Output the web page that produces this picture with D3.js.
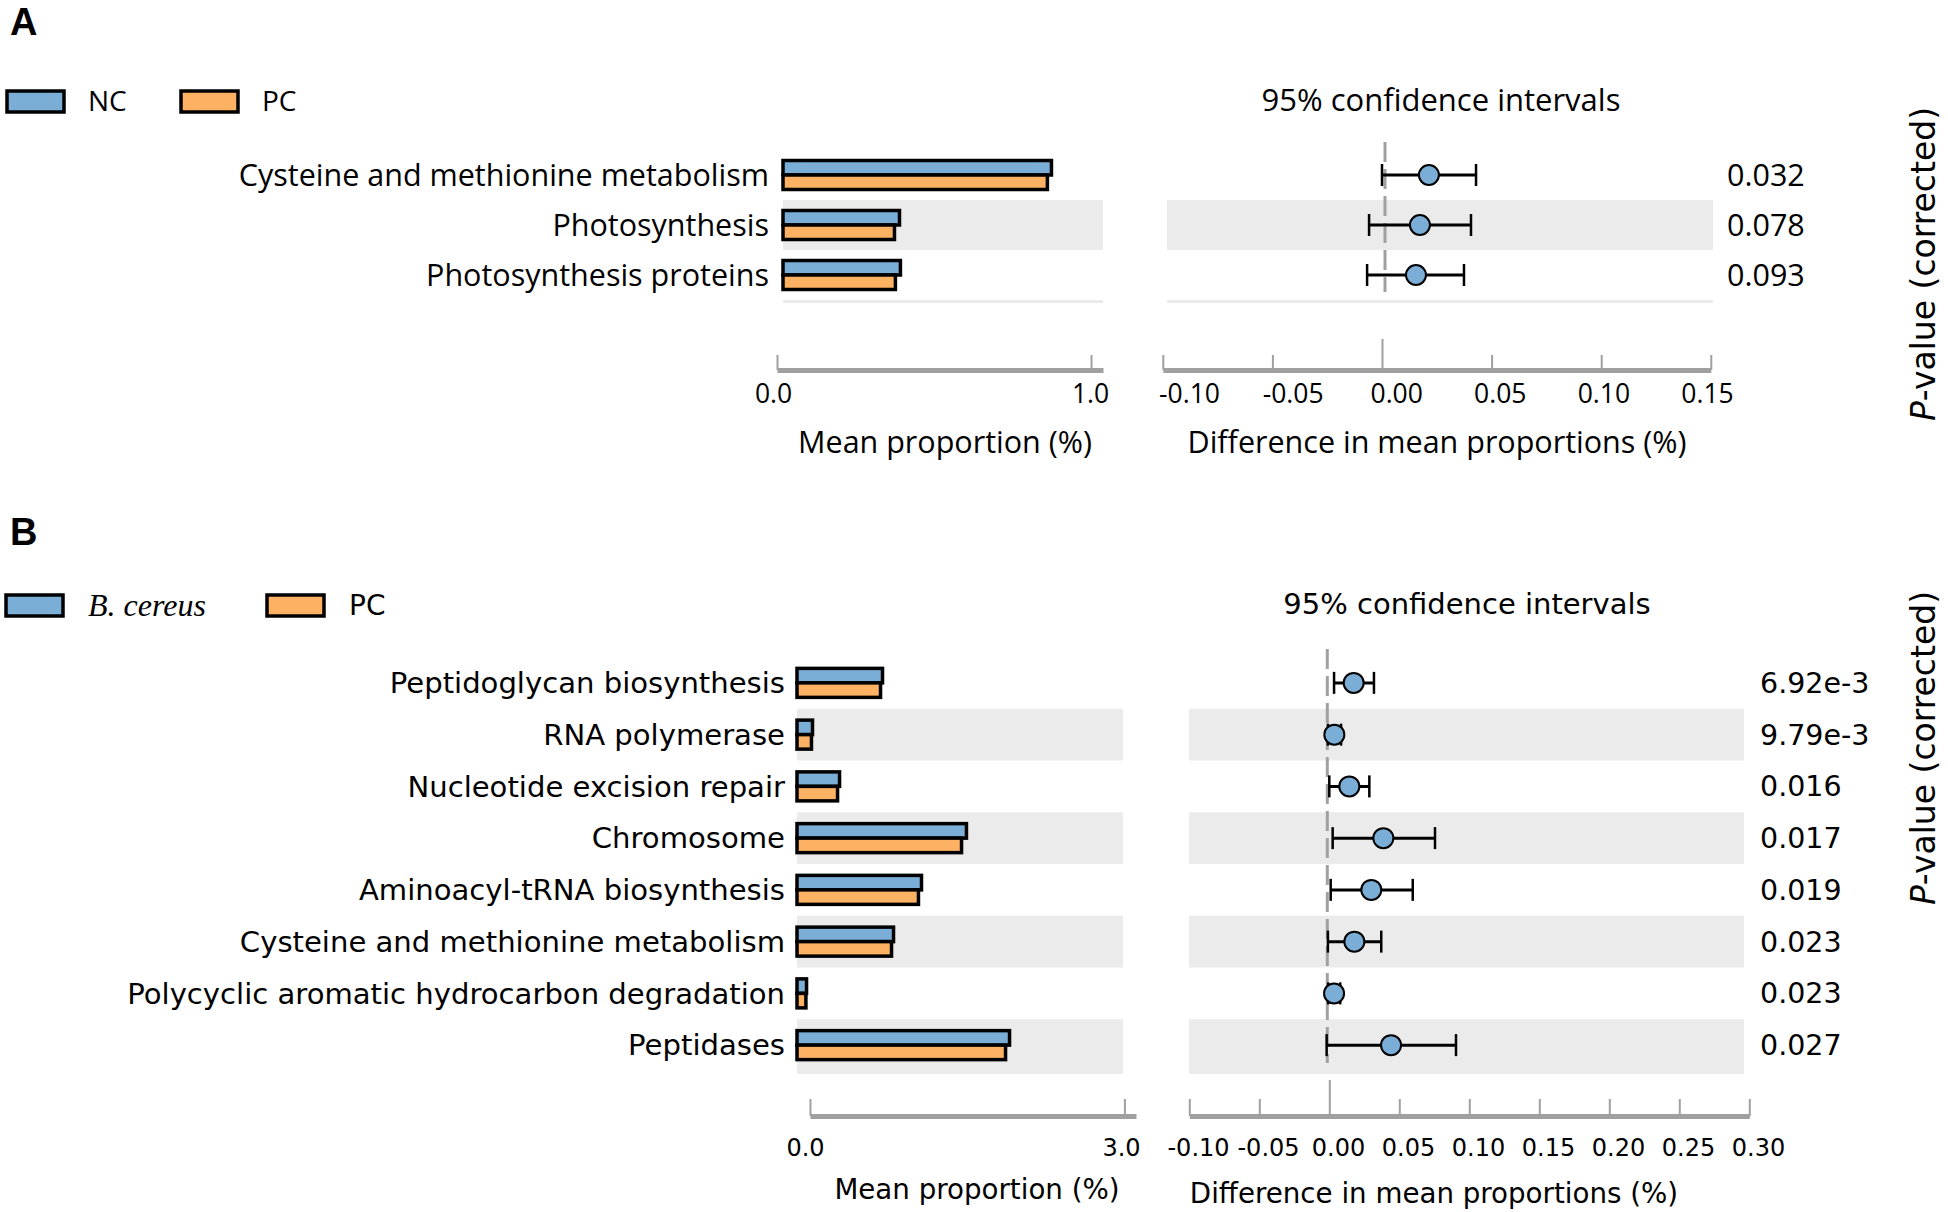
<!DOCTYPE html>
<html>
<head>
<meta charset="utf-8">
<script src="https://cdn.jsdelivr.net/npm/d3@7"></script>
<style>
  body { margin: 0; background: #fff; }
  .domain { stroke: #a0a0a0; stroke-width: 5; }
  .tick line { stroke: #a0a0a0; stroke-width: 2; }
</style>
</head>
<body>
<svg width="1948" height="1212"></svg>
<script>
// Panel A: NC vs PC
var categoriesA = ["Cysteine and methionine metabolism", "Photosynthesis", "Photosynthesis proteins"];
var ncMeanA = [0.855, 0.371, 0.374];
var pcMeanA = [0.842, 0.355, 0.358];
var diffA = [0.0214, 0.0173, 0.0155];
var lowerA = [0.0000, -0.0059, -0.0068];
var upperA = [0.0429, 0.0406, 0.0374];
var pvalA = ["0.032", "0.078", "0.093"];
var meanTicksA = [0, 1];
var diffTicksA = [-0.10, -0.05, 0, 0.05, 0.10, 0.15];

// Panel B: B. cereus vs PC
var categoriesB = ["Peptidoglycan biosynthesis", "RNA polymerase", "Nucleotide excision repair", "Chromosome",
    "Aminoacyl-tRNA biosynthesis", "Cysteine and methionine metabolism", "Polycyclic aromatic hydrocarbon degradation", "Peptidases"];
var bcMeanB = [0.816, 0.148, 0.406, 1.617, 1.188, 0.921, 0.091, 2.028];
var pcMeanB = [0.797, 0.138, 0.387, 1.570, 1.159, 0.902, 0.085, 1.990];
var diffB = [0.0174, 0.0036, 0.0143, 0.0386, 0.0300, 0.0179, 0.0034, 0.0441];
var lowerB = [0.0034, -0.0010, 0.0000, 0.0024, 0.0010, -0.0010, -0.0008, -0.0019];
var upperB = [0.0319, 0.0084, 0.0286, 0.0755, 0.0596, 0.0371, 0.0078, 0.0905];
var pvalB = ["6.92e-3", "9.79e-3", "0.016", "0.017", "0.019", "0.023", "0.023", "0.027"];
var meanTicksB = [0, 3];
var diffTicksB = [-0.10, -0.05, 0, 0.05, 0.10, 0.15, 0.20, 0.25, 0.30];

var blue = "#7aaed6", orange = "#fdb163", band = "#ebebeb", axisGray = "#a0a0a0";

var svg = d3.select("svg");

// plain hyphen for negative ticks, like the original figure
function fmt(spec) {
    var f = d3.format(spec);
    return function (d) { return f(d).replace("\u2212", "-"); };
}

function drawPanel(p) {
    var g = svg.append("g").style("font-family", p.font);
    var n = p.cats.length;

    var y = d3.scaleBand().domain(d3.range(n)).range([p.top, p.top + n * p.rowH]);
    var xBar = d3.scaleLinear().domain([0, p.barMax]).range(p.barRange);
    var xBarAxis = d3.scaleLinear().domain([0, p.barMax]).range(p.barAxisRange);
    var xCi = d3.scaleLinear().domain(p.ciDomain).range(p.ciRange);
    // the tick labels in the figure sit a little off their ticks
    var barLab = d3.scaleLinear().domain(d3.extent(p.meanTicks)).range(p.barLabelRange);
    var ciLab = d3.scaleLinear().domain(d3.extent(p.diffTicks)).range(p.ciLabelRange);

    // panel letter
    g.append("text").attr("x", 10).attr("y", p.letterY)
        .style("font-family", "Liberation Sans").style("font-weight", "bold").style("font-size", "38px")
        .text(p.letter);

    // legend
    var leg = g.append("g");
    p.legend.forEach(function (l) {
        leg.append("rect").attr("x", l.x).attr("y", p.legendY - 10).attr("width", 57).attr("height", 21)
            .attr("fill", l.color).attr("stroke", "#000").attr("stroke-width", 3.5);
        var t = leg.append("text").attr("x", l.tx).attr("y", p.legendY).attr("dy", "0.35em")
            .style("font-size", l.size + "px").text(l.name);
        if (l.italic) t.style("font-family", "Liberation Serif").style("font-style", "italic");
    });

    // alternating background bands
    g.selectAll(".bandL").data(d3.range(n).filter(function (i) { return i % 2 == 1; }))
        .enter().append("rect")
        .attr("x", p.barBand[0]).attr("width", p.barBand[1] - p.barBand[0])
        .attr("y", function (i) { return y(i); }).attr("height", y.bandwidth())
        .attr("fill", band);
    g.selectAll(".bandR").data(d3.range(n).filter(function (i) { return i % 2 == 1; }))
        .enter().append("rect")
        .attr("x", p.ciBand[0]).attr("width", p.ciBand[1] - p.ciBand[0])
        .attr("y", function (i) { return y(i); }).attr("height", y.bandwidth())
        .attr("fill", band);
    [p.barBand, p.ciBand].forEach(function (b) {
        g.append("line").attr("x1", b[0]).attr("x2", b[1])
            .attr("y1", p.top + n * p.rowH + 1.5).attr("y2", p.top + n * p.rowH + 1.5)
            .attr("stroke", band).attr("stroke-width", 3);
    });

    // category labels
    g.selectAll(".cat").data(p.cats).enter().append("text")
        .attr("x", p.labelX).attr("y", function (d, i) { return y(i) + y.bandwidth() / 2; })
        .attr("dy", "0.35em").attr("text-anchor", "end")
        .style("font-size", p.labelSize + "px").text(function (d) { return d; });

    // bars
    var bh = 14.5;
    g.selectAll(".barA").data(p.meanA).enter().append("rect")
        .attr("x", xBar(0)).attr("y", function (d, i) { return y(i) + y.bandwidth() / 2 - bh; })
        .attr("width", function (d) { return xBar(d) - xBar(0); }).attr("height", bh)
        .attr("fill", blue).attr("stroke", "#000").attr("stroke-width", 3.5);
    g.selectAll(".barB").data(p.meanB).enter().append("rect")
        .attr("x", xBar(0)).attr("y", function (d, i) { return y(i) + y.bandwidth() / 2; })
        .attr("width", function (d) { return xBar(d) - xBar(0); }).attr("height", bh)
        .attr("fill", orange).attr("stroke", "#000").attr("stroke-width", 3.5);

    // zero line
    g.append("line").attr("x1", xCi(0) + p.zeroShift).attr("x2", xCi(0) + p.zeroShift)
        .attr("y1", p.top - 8).attr("y2", p.top + n * p.rowH - 8)
        .attr("stroke", axisGray).attr("stroke-width", 3).attr("stroke-dasharray", "20,7");

    // confidence intervals
    var ci = g.selectAll(".ci").data(p.diff).enter().append("g")
        .attr("transform", function (d, i) { return "translate(0," + (y(i) + y.bandwidth() / 2) + ")"; });
    ci.append("line")
        .attr("x1", function (d, i) { return xCi(p.lower[i]); })
        .attr("x2", function (d, i) { return xCi(p.upper[i]); })
        .attr("stroke", "#000").attr("stroke-width", 3);
    ci.append("line")
        .attr("x1", function (d, i) { return xCi(p.lower[i]); })
        .attr("x2", function (d, i) { return xCi(p.lower[i]); })
        .attr("y1", -11).attr("y2", 11).attr("stroke", "#000").attr("stroke-width", 2.5);
    ci.append("line")
        .attr("x1", function (d, i) { return xCi(p.upper[i]); })
        .attr("x2", function (d, i) { return xCi(p.upper[i]); })
        .attr("y1", -11).attr("y2", 11).attr("stroke", "#000").attr("stroke-width", 2.5);
    ci.append("circle").attr("cx", function (d) { return xCi(d); }).attr("r", 10)
        .attr("fill", blue).attr("stroke", "#000").attr("stroke-width", 2);

    // p-values
    g.selectAll(".pval").data(p.pvals).enter().append("text")
        .attr("x", p.pvalX).attr("y", function (d, i) { return y(i) + y.bandwidth() / 2; })
        .attr("dy", "0.35em").style("font-size", p.pvalSize + "px").text(function (d) { return d; });

    // axes
    var axBar = g.append("g").attr("transform", "translate(0," + p.axisY + ")")
        .call(d3.axisBottom(xBarAxis).tickValues(p.meanTicks).tickFormat(fmt(".1f"))
            .tickSize(-p.tickLen).tickSizeOuter(0));
    var axCi = g.append("g").attr("transform", "translate(0," + p.axisY + ")")
        .call(d3.axisBottom(xCi).tickValues(p.diffTicks).tickFormat(fmt(".2f"))
            .tickSize(-p.tickLen).tickSizeOuter(0));
    axCi.selectAll(".tick line").filter(function (d) { return d === 0; }).attr("y2", -p.zeroTickLen);
    axBar.selectAll(".tick text").attr("x", function (d) { return barLab(d) - xBarAxis(d); });
    axCi.selectAll(".tick text").attr("x", function (d) { return ciLab(d) - xCi(d); });
    [axBar, axCi].forEach(function (ax) {
        ax.selectAll("text").attr("y", p.tickLabelY).attr("dy", null)
            .attr("fill", "#000").style("font-size", p.tickSize + "px").style("font-family", p.font);
        ax.select(".domain").attr("stroke-linecap", "butt");
    });

    // titles
    g.append("text").attr("x", p.ciTitleX).attr("y", p.ciTitleY).attr("dy", "0.35em")
        .attr("text-anchor", "middle").style("font-size", p.ciTitleSize + "px").text("95% confidence intervals");
    g.append("text").attr("x", p.barTitleX).attr("y", p.barTitleY)
        .attr("text-anchor", "middle").style("font-size", p.axisTitleSize + "px").text("Mean proportion (%)");
    g.append("text").attr("x", p.diffTitleX).attr("y", p.diffTitleY)
        .attr("text-anchor", "middle").style("font-size", p.axisTitleSize + "px").text("Difference in mean proportions (%)");

    var pv = svg.append("text").attr("transform", "translate(1935," + p.pTitleY + ") rotate(-90)")
        .attr("text-anchor", "middle").style("font-family", "DejaVu Sans").style("font-size", "33px");
    pv.append("tspan").style("font-style", "italic").text("P");
    pv.append("tspan").text("-value (corrected)");
}

drawPanel({
    letter: "A", letterY: 35, font: "Open Sans",
    cats: categoriesA, meanA: ncMeanA, meanB: pcMeanA, diff: diffA, lower: lowerA, upper: upperA, pvals: pvalA,
    meanTicks: meanTicksA, diffTicks: diffTicksA,
    legendY: 101,
    legend: [{ x: 7, tx: 88, name: "NC", color: blue, size: 28 }, { x: 181, tx: 262, name: "PC", color: orange, size: 28 }],
    top: 150, rowH: 50,
    barMax: 326 / 314, barRange: [783, 1109], barAxisRange: [777, 1103], barBand: [783, 1103],
    ciDomain: [-0.10, 0.15], ciRange: [1162.8, 1710.8], ciBand: [1167, 1713], zeroShift: 3,
    barLabelRange: [773, 1090], ciLabelRange: [1189, 1707],
    labelX: 769, labelSize: 30.5, pvalX: 1727, pvalSize: 30.5,
    axisY: 370, tickLen: 15, zeroTickLen: 31, tickLabelY: 33, tickSize: 26.5,
    ciTitleX: 1441, ciTitleY: 100, ciTitleSize: 31,
    barTitleX: 945, barTitleY: 453, diffTitleX: 1437, diffTitleY: 453, axisTitleSize: 30.5,
    pTitleY: 264
});

drawPanel({
    letter: "B", letterY: 545, font: "DejaVu Sans",
    cats: categoriesB, meanA: bcMeanB, meanB: pcMeanB, diff: diffB, lower: lowerB, upper: upperB, pvals: pvalB,
    meanTicks: meanTicksB, diffTicks: diffTicksB,
    legendY: 605,
    legend: [{ x: 6, tx: 88, name: "B. cereus", color: blue, size: 32, italic: true }, { x: 267, tx: 349, name: "PC", color: orange, size: 28 }],
    top: 657, rowH: 51.75,
    barMax: 326 / 104.8, barRange: [797, 1123], barAxisRange: [810, 1136], barBand: [797, 1123],
    ciDomain: [-0.10, 0.30], ciRange: [1189.3, 1749.3], ciBand: [1189, 1744], zeroShift: -2,
    barLabelRange: [805, 1121], ciLabelRange: [1198, 1758],
    labelX: 785, labelSize: 29.1, pvalX: 1760, pvalSize: 28.5,
    axisY: 1116, tickLen: 17, zeroTickLen: 36, tickLabelY: 40, tickSize: 24,
    ciTitleX: 1467, ciTitleY: 604, ciTitleSize: 29,
    barTitleX: 977, barTitleY: 1199, diffTitleX: 1434, diffTitleY: 1203, axisTitleSize: 27.7,
    pTitleY: 748
});
</script>
</body>
</html>
